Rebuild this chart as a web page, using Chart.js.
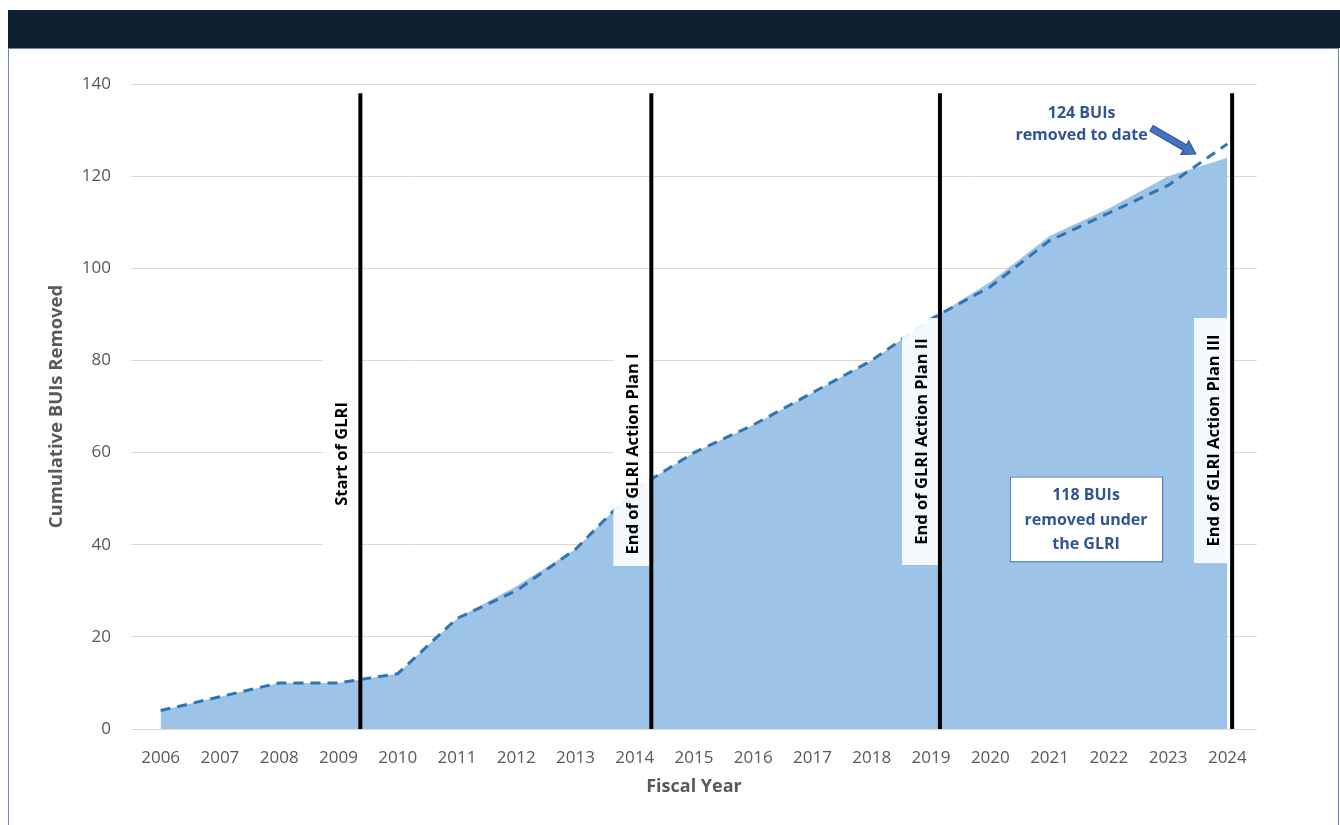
<!DOCTYPE html>
<html>
<head>
    <title>Cumulative BUIs Removed</title>
    <script src="https://cdn.jsdelivr.net/npm/chart.js"></script>
    <style>
        body { margin: 0; background: #fff; }
        #band { position: absolute; left: 8px; top: 10px; width: 1332px; height: 38px; background: #0e1f2f; }
        #frame { position: absolute; left: 8px; top: 48px; width: 1329px; height: 800px; border: 1.5px solid #6a86b5; }
        #wrap { position: absolute; left: 0; top: 0; width: 1340px; height: 825px; }
    </style>
</head>
<body>
    <div id="band"></div>
    <div id="frame"></div>
    <div id="wrap"><canvas id="buiChart"></canvas></div>
    <script>
        const fiscalYears = [2006, 2007, 2008, 2009, 2010, 2011, 2012, 2013, 2014, 2015,
                             2016, 2017, 2018, 2019, 2020, 2021, 2022, 2023, 2024];
        // filled area
        const cumulativeRemoved = [4, 7, 10, 10, 12, 24, 31, 39, 52, 60, 66, 73, 80, 89, 97, 107, 113, 120, 124];
        // dashed line
        const cumulativeTrend = [4, 7, 10, 10, 12, 24, 30, 39, 52, 60, 66, 73, 80, 89, 96, 106, 112, 118, 127];
        const yTicks = [0, 20, 40, 60, 80, 100, 120, 140];

        const milestoneYears = [2009.37, 2014.28, 2019.15, 2024.08];
        const milestoneLabels = ['Start of GLRI', 'End of GLRI Action Plan I',
                                 'End of GLRI Action Plan II', 'End of GLRI Action Plan III'];

        const toDateNote = ['124 BUIs', 'removed to date'];
        const glriNote = ['118 BUIs', 'removed under', 'the GLRI'];

        const FONT = '"Open Sans", "Noto Sans", sans-serif';
        const NOTE_BLUE = '#2f5597';

        const milestonePlugin = {
            id: 'milestones',
            afterDatasetsDraw(chart) {
                const ctx = chart.ctx;
                const x = chart.scales.x, y = chart.scales.y;
                const boxSpans = [[84, 35.4], [84, 35.4], [89.2, 35.6], [89.2, 36]];

                milestoneYears.forEach((yr, i) => {
                    const px = x.getPixelForValue(yr);
                    const top = y.getPixelForValue(boxSpans[i][0]);
                    const bot = y.getPixelForValue(boxSpans[i][1]);
                    ctx.save();
                    ctx.fillStyle = 'rgba(255,255,255,0.9)';
                    ctx.fillRect(px - 38, top, 36, bot - top);
                    ctx.translate(px - 19, (top + bot) / 2);
                    ctx.rotate(-Math.PI / 2);
                    ctx.fillStyle = '#000';
                    ctx.font = 'bold 16.5px ' + FONT;
                    ctx.textAlign = 'center';
                    ctx.textBaseline = 'middle';
                    ctx.fillText(milestoneLabels[i], 0, 1);
                    ctx.restore();

                    ctx.save();
                    ctx.strokeStyle = '#000';
                    ctx.lineWidth = 4;
                    ctx.beginPath();
                    ctx.moveTo(px, y.getPixelForValue(138));
                    ctx.lineTo(px, y.getPixelForValue(0));
                    ctx.stroke();
                    ctx.restore();
                });

                // "124 BUIs removed to date" + arrow
                ctx.save();
                ctx.fillStyle = NOTE_BLUE;
                ctx.font = 'bold 16px ' + FONT;
                ctx.textAlign = 'center';
                ctx.textBaseline = 'middle';
                const nx = x.getPixelForValue(2021.54);
                ctx.fillText(toDateNote[0], nx, y.getPixelForValue(133.6));
                ctx.fillText(toDateNote[1], nx, y.getPixelForValue(128.8));

                const ax0 = x.getPixelForValue(2022.72), ay0 = y.getPixelForValue(130.4);
                const ax1 = x.getPixelForValue(2023.47), ay1 = y.getPixelForValue(124.8);
                const ang = Math.atan2(ay1 - ay0, ax1 - ax0);
                const len = Math.hypot(ax1 - ax0, ay1 - ay0);
                ctx.translate(ax0, ay0);
                ctx.rotate(ang);
                ctx.fillStyle = '#4472c4';
                ctx.strokeStyle = '#2f528f';
                ctx.lineWidth = 1;
                ctx.beginPath();
                ctx.moveTo(0, -3.2);
                ctx.lineTo(len - 13, -3.2);
                ctx.lineTo(len - 13, -8);
                ctx.lineTo(len, 0);
                ctx.lineTo(len - 13, 8);
                ctx.lineTo(len - 13, 3.2);
                ctx.lineTo(0, 3.2);
                ctx.closePath();
                ctx.fill();
                ctx.stroke();
                ctx.restore();

                // "118 BUIs removed under the GLRI" box
                ctx.save();
                const bl = x.getPixelForValue(2020.33), br = x.getPixelForValue(2022.9);
                const bt = y.getPixelForValue(54.8), bb = y.getPixelForValue(36.4);
                ctx.fillStyle = '#fff';
                ctx.fillRect(bl, bt, br - bl, bb - bt);
                ctx.strokeStyle = '#4472c4';
                ctx.lineWidth = 1;
                ctx.strokeRect(bl + 0.5, bt + 0.5, br - bl, bb - bt);
                ctx.fillStyle = NOTE_BLUE;
                ctx.font = 'bold 16px ' + FONT;
                ctx.textAlign = 'center';
                ctx.textBaseline = 'middle';
                const cx = (bl + br) / 2;
                glriNote.forEach((t, k) => ctx.fillText(t, cx, bt + 19 + k * 24.5));
                ctx.restore();
            }
        };

        const ctx = document.getElementById('buiChart').getContext('2d');
        const chart = new Chart(ctx, {
            type: 'line',
            data: {
                datasets: [{
                    label: 'Cumulative BUIs removed',
                    data: fiscalYears.map((yr, i) => ({ x: yr, y: cumulativeRemoved[i] })),
                    backgroundColor: '#9dc3e6',
                    borderWidth: 0,
                    pointRadius: 0,
                    fill: 'origin',
                    order: 2
                }, {
                    label: 'Trend',
                    data: fiscalYears.map((yr, i) => ({ x: yr, y: cumulativeTrend[i] })),
                    borderColor: '#2e75b6',
                    borderWidth: 3,
                    borderDash: [10, 7],
                    pointRadius: 0,
                    fill: false,
                    order: 1
                }]
            },
            options: {
                responsive: true,
                maintainAspectRatio: false,
                animation: false,
                layout: { padding: { left: 42, top: 84, right: 83, bottom: 24 } },
                plugins: { legend: { display: false }, tooltip: { enabled: false } },
                scales: {
                    x: {
                        type: 'linear',
                        min: 2005.5,
                        max: 2024.5,
                        afterBuildTicks: s => { s.ticks = fiscalYears.map(v => ({ value: v })); },
                        afterFit: s => { s.height = 72; },
                        grid: { display: false },
                        border: { display: false },
                        ticks: {
                            callback: v => String(v),
                            color: '#595959',
                            font: { family: FONT, size: 17 },
                            padding: 11,
                            maxRotation: 0,
                            autoSkip: false
                        },
                        title: {
                            display: true,
                            text: 'Fiscal Year',
                            color: '#595959',
                            font: { family: FONT, size: 18, weight: 'bold' },
                            padding: { top: 4, bottom: 3 }
                        }
                    },
                    y: {
                        min: 0,
                        max: 140,
                        afterBuildTicks: s => { s.ticks = yTicks.map(v => ({ value: v })); },
                        afterFit: s => { s.width = 89; },
                        grid: { color: '#d9d9d9', drawTicks: false },
                        border: { display: false },
                        ticks: {
                            color: '#595959',
                            font: { family: FONT, size: 17 },
                            padding: 20
                        },
                        title: {
                            display: true,
                            text: 'Cumulative BUIs Removed',
                            color: '#595959',
                            font: { family: FONT, size: 18.5, weight: 'bold' },
                            padding: { top: 4, bottom: 4 }
                        }
                    }
                }
            },
            plugins: [milestonePlugin]
        });
    </script>
</body>
</html>
